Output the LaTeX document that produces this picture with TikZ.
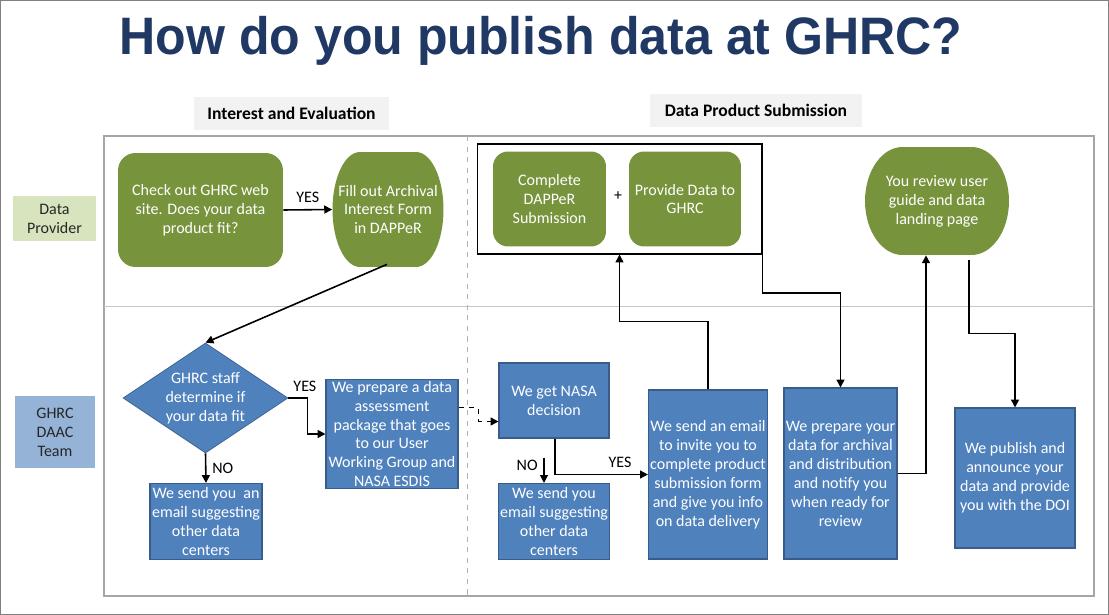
\documentclass[tikz,border=0pt]{standalone}
\usepackage{fontspec}
\setmainfont{Carlito}
\newfontfamily\titlefont{Liberation Sans}
\usetikzlibrary{arrows.meta,shapes,positioning,calc}
\definecolor{ghrcgreen}{HTML}{77933C}
\definecolor{ghrcblue}{HTML}{4F81BD}
\definecolor{ghrcedge}{HTML}{385D8A}
\definecolor{titleblue}{HTML}{1F3864}
\definecolor{lanegreen}{HTML}{D7E4BD}
\definecolor{laneblue}{HTML}{95B3D7}
\definecolor{hdrgray}{HTML}{F2F2F2}
\definecolor{framegray}{HTML}{A6A6A6}

\tikzset{
  gbox/.style={fill=ghrcgreen, text=white, rounded corners=0.35cm, align=center, inner sep=1pt},
  gpill/.style={text=white, align=center, inner sep=1pt, path picture={
    \coordinate (pnw) at (path picture bounding box.north west);
    \coordinate (pne) at (path picture bounding box.north east);
    \coordinate (psw) at (path picture bounding box.south west);
    \coordinate (pse) at (path picture bounding box.south east);
    \coordinate (pw) at (path picture bounding box.west);
    \coordinate (pe) at (path picture bounding box.east);
    \fill[ghrcgreen] ($(pnw)+(#1,0)$) -- ($(pne)+(-#1,0)$)
      .. controls ($(pne)+(-0.448*#1,0)$) and ($(pe)!0.552!(pne)$) .. (pe)
      .. controls ($(pe)!0.552!(pse)$) and ($(pse)+(-0.448*#1,0)$) .. ($(pse)+(-#1,0)$)
      -- ($(psw)+(#1,0)$)
      .. controls ($(psw)+(0.448*#1,0)$) and ($(pw)!0.552!(psw)$) .. (pw)
      .. controls ($(pw)!0.552!(pnw)$) and ($(pnw)+(0.448*#1,0)$) .. cycle;}},
  bbox/.style={draw=ghrcedge, fill=ghrcblue, text=white, align=center, inner sep=1pt, line width=0.6pt},
  hdr/.style={fill=hdrgray, font=\fontsize{10}{12}\selectfont\bfseries, minimum height=0.66cm},
  lane/.style={align=center, text=black!85},
  conn/.style={->, line width=0.9pt},
  >={Triangle[length=4.5pt,width=4.5pt]},
}

\begin{document}
\begin{tikzpicture}[x=0.02cm, y=-0.02cm, font=\fontsize{9.1}{10.8}\selectfont]
  \useasboundingbox (0,0) rectangle (1109,615);
  \draw[gray] (0.5,0.5) rectangle (1108.5,614.5);

  % title and headers
  \node[font=\titlefont\bfseries\fontsize{30}{36}\selectfont, text=titleblue, anchor=base] (title) at (541,55) {\scalebox{0.95}[1]{How do you publish data at GHRC?}};
  \node[hdr, minimum width=3.9cm] (hdrA) at (291.5,113.5) {Interest and Evaluation};
  \node[hdr, minimum width=4.24cm] (hdrB) at (756,110.5) {Data Product Submission};

  % swimlanes
  \draw[framegray, line width=1pt] (104,136) rectangle (1094,596);
  \draw[gray!45] (104,306) -- (1094,306);
  \draw[gray!60, dashed] (467,136) -- (467,596);
  \node[lane, fill=lanegreen, minimum width=1.66cm, minimum height=0.9cm] (provider) at (54.5,218.5) {Data\\Provider};
  \node[lane, fill=laneblue, minimum width=1.6cm, minimum height=1.44cm] (team) at (55,432) {GHRC\\DAAC\\Team};

  % data provider lane
  \node[gbox, minimum width=3.3cm, minimum height=2.28cm] (check) at (200.5,210) {Check out GHRC web\\site. Does your data\\product fit?};
  \node[gpill=0.55cm, minimum width=2.22cm, minimum height=2.3cm] (fill) at (388,209.5) {Fill out Archival\\Interest Form\\in DAPPeR};
  \node[draw=black, fill=white, line width=0.6pt, minimum width=5.7cm, minimum height=2.2cm] (subm) at (619.5,199) {};
  \node[gbox, rounded corners=0.3cm, minimum width=2.26cm, minimum height=1.9cm] (complete) at (549.5,199) {Complete\\DAPPeR\\Submission};
  \node (plus) at (618,196) {+};
  \node[gbox, rounded corners=0.3cm, minimum width=2.24cm, minimum height=1.9cm] (provide) at (685,199) {Provide Data to\\GHRC};
  \node[gpill=0.75cm, minimum width=2.88cm, minimum height=2.16cm] (review) at (937,201) {You review user\\guide and data\\landing page};

  % GHRC team lane
  \node[diamond, draw=ghrcedge, fill=ghrcblue, text=white, align=center, aspect=1.5, inner sep=0pt, minimum width=3.3cm, minimum height=2.2cm] (dia) at (205.5,398) {GHRC staff\\determine if\\your data fit};
  \node[bbox, minimum width=2.24cm, minimum height=1.52cm] (send1) at (206,521.5) {We send you~ an\\email suggesting\\other data\\centers};
  \node[bbox, minimum width=2.64cm, minimum height=2.16cm] (prep) at (392,434) {We prepare a data\\assessment\\package that goes\\to our User\\Working Group and\\NASA ESDIS};
  \node[bbox, minimum width=2.2cm, minimum height=1.5cm] (nasa) at (554,400.5) {We get NASA\\decision};
  \node[bbox, minimum width=2.2cm, minimum height=1.52cm] (send2) at (554,521.5) {We send you\\email suggesting\\other data\\centers};
  \node[bbox, minimum width=2.36cm, minimum height=3.38cm] (invite) at (708,474.5) {We send an email\\to invite you to\\complete product\\submission form\\and give you info\\on data delivery};
  \node[bbox, minimum width=2.26cm, minimum height=3.42cm] (prepdata) at (840.5,473.5) {We prepare your\\data for archival\\and distribution\\and notify you\\when ready for\\review};
  \node[bbox, minimum width=2.4cm, minimum height=2.8cm] (publish) at (1015,478) {We publish and\\announce your\\data and provide\\you with the DOI};

  % connectors
  \draw[conn] (check.east) -- node[above] {YES} (fill.west);
  \draw[conn] ($(fill.south)+(-1,-3)$) -- (dia.north);
  \draw[conn] (dia.east) -- node[above, xshift=4pt] {YES} ++(19,0) |- (prep.west);
  \draw[conn] (dia.south) -- node[right] {NO} (send1.north);
  \draw[conn, dashed] ($(prep.north east)+(0,29)$) -- ++(20,0) |- ($(nasa.south west)+(0,-17)$);
  \draw[->, line width=0.6pt] ($(nasa.south)+(-10,19)$) -- node[left, yshift=3pt] {NO} ($(send2.north)+(-10,0)$);
  \draw[conn] ($(nasa.south)+(1,0)$) |- node[above, pos=.85] {YES} (invite.west);
  \draw[conn] (invite.north) -- ++(0,-68) -| (subm.south);
  \draw[conn] (subm.east) -- ++(0,94) -| (prepdata.north);
  \draw[conn] (prepdata.east) -| ($(review.south)+(-11,0)$);
  \draw[conn] ($(review.south)+(32,5)$) -- ++(0,73) -| (publish.north);
\end{tikzpicture}
\end{document}
